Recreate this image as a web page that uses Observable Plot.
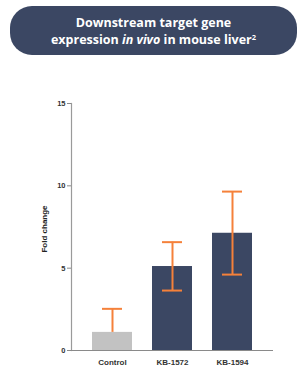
<!DOCTYPE html>
<html>
<head>
<meta charset="utf-8">
<script src="https://cdn.jsdelivr.net/npm/d3@7"></script>
<script src="https://cdn.jsdelivr.net/npm/@observablehq/plot@0.6"></script>
<style>
  html, body { margin: 0; padding: 0; background: #fff; }
  #wrap { width: 302px; height: 371px; position: relative; }
  #title {
    position: absolute; left: 10px; top: 6px; width: 287px; height: 49px;
    background: #3b4763; border-radius: 22px; color: #fff;
    font-family: "Open Sans", sans-serif; font-weight: 700; font-size: 12.5px;
    line-height: 17px; text-align: center; display: flex; flex-direction: column;
    justify-content: center; box-sizing: border-box; padding-top: 1px;
  }
  #title sup { font-size: 7.5px; vertical-align: 4px; line-height: 0; }
  #chart { position: absolute; left: 0; top: 62px; }
  #chart text { font-family: Arial, "Liberation Sans", sans-serif; }
</style>
</head>
<body>
<div id="wrap">
  <div id="title"><div>Downstream target gene</div><div>expression <i>in vivo</i> in mouse liver<sup>2</sup></div></div>
  <div id="chart"></div>
</div>
<script>
const categories = ["Control", "KB-1572", "KB-1594"];
const foldChange = [1.1, 5.1, 7.12];
const errHigh = [2.53, 6.58, 9.65];
const errLow = [null, 3.64, 4.61];
const yTicks = [0, 5, 10, 15];
const barColors = ["#c2c2c2", "#3b4763", "#3b4763"];

const data = categories.map((c, i) => ({
  cat: c, v: foldChange[i], hi: errHigh[i], lo: errLow[i], color: barColors[i]
}));
const orange = "#f5813a";

const plot = Plot.plot({
  width: 302,
  height: 309,
  marginLeft: 71,
  marginRight: 29,
  marginTop: 41,
  marginBottom: 21,
  x: { domain: categories, paddingInner: 0.34, paddingOuter: 0.33, label: null },
  y: { domain: [0, 15], ticks: yTicks, label: null },
  marks: [
    Plot.barY(data, { x: "cat", y: "v", fill: "color" }),
    Plot.ruleX(data, { x: "cat", y1: d => d.lo ?? d.v, y2: "hi", stroke: orange, strokeWidth: 2 }),
    Plot.tickY(data, { x: "cat", y: "hi", stroke: orange, strokeWidth: 2, insetLeft: 10, insetRight: 10 }),
    Plot.tickY(data.filter(d => d.lo != null), { x: "cat", y: "lo", stroke: orange, strokeWidth: 2, insetLeft: 10, insetRight: 10 }),
    Plot.frame({ anchor: "left", stroke: "#9a9a9a", strokeWidth: 1.2 }),
    Plot.ruleY([0], { stroke: "#8a8a8a", strokeWidth: 1.2 }),
    Plot.axisY({ ticks: yTicks, tickSize: 4, tickPadding: 2, stroke: "#8a8a8a", fill: "#333", fontSize: 7.5, fontWeight: "bold", label: null }),
    Plot.axisX({ tickSize: 0, tickPadding: 9, fill: "#333", fontSize: 8, fontWeight: "bold", label: null }),
    Plot.text(["Fold change"], { frameAnchor: "left", textAnchor: "middle", dx: -27, dy: 2, rotate: -90, fontSize: 8, fontWeight: "bold", fill: "#222" })
  ]
});
document.getElementById("chart").appendChild(plot);
</script>
</body>
</html>
